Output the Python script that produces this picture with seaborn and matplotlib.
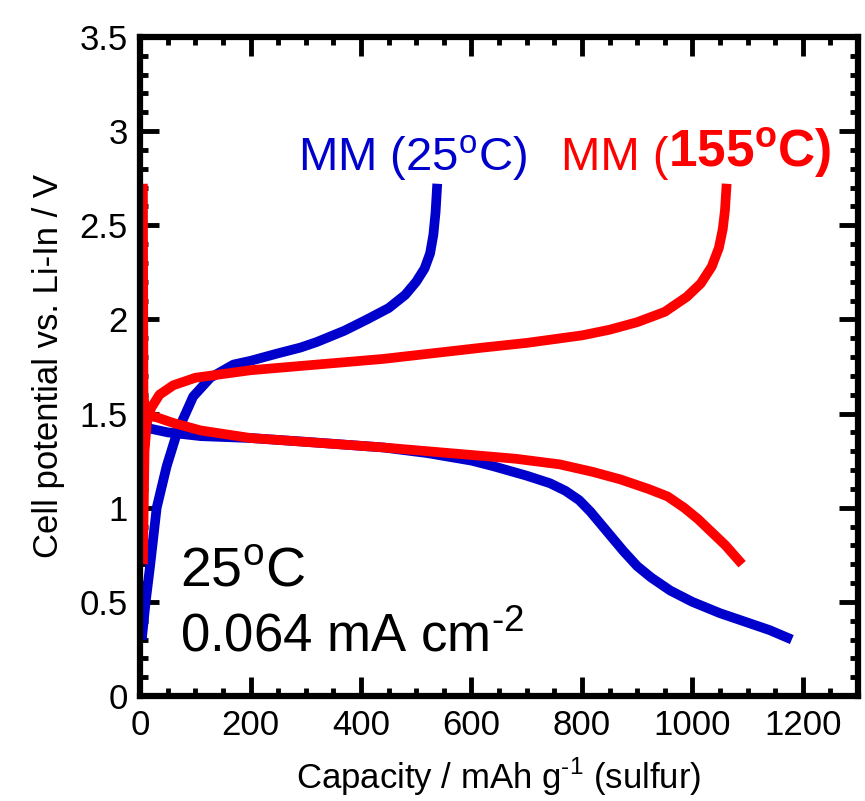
import matplotlib
matplotlib.use("Agg")
import matplotlib.pyplot as plt
import seaborn as sns
import pandas as pd
from matplotlib.ticker import MultipleLocator

# ---------------- data ----------------
blue_dis_cap = [0, 18, 50, 110, 200, 300, 440, 520, 600, 640, 700, 742, 770, 795, 815, 835, 855, 875, 900, 925, 960, 1000, 1050, 1100, 1140, 1180]
blue_dis_v   = [1.47, 1.42, 1.40, 1.38, 1.37, 1.35, 1.32, 1.29, 1.25, 1.22, 1.17, 1.13, 1.09, 1.04, 0.98, 0.91, 0.84, 0.77, 0.69, 0.63, 0.56, 0.50, 0.44, 0.39, 0.35, 0.30]

blue_chg_cap = [3, 10, 18, 30, 48, 67, 96, 127, 169, 200, 250, 290, 320, 370, 411, 450, 480, 500, 515, 525, 531, 535, 538]
blue_chg_v   = [0.30, 0.50, 0.69, 1.00, 1.22, 1.40, 1.59, 1.69, 1.76, 1.78, 1.82, 1.85, 1.88, 1.94, 2.00, 2.06, 2.13, 2.20, 2.27, 2.35, 2.45, 2.57, 2.72]

red_dis_cap = [5, 6, 10, 30, 60, 110, 200, 440, 680, 760, 820, 870, 920, 955, 985, 1010, 1035, 1060, 1090]
red_dis_v   = [2.72, 1.60, 1.49, 1.48, 1.45, 1.41, 1.37, 1.32, 1.26, 1.23, 1.19, 1.15, 1.10, 1.06, 1.00, 0.94, 0.87, 0.80, 0.70]

red_chg_cap = [5, 8, 12, 20, 35, 60, 100, 150, 200, 300, 440, 620, 700, 800, 850, 900, 950, 990, 1015, 1035, 1048, 1055, 1059, 1062]
red_chg_v   = [0.70, 1.30, 1.45, 1.53, 1.60, 1.65, 1.69, 1.71, 1.73, 1.755, 1.79, 1.85, 1.875, 1.915, 1.945, 1.985, 2.04, 2.12, 2.19, 2.28, 2.38, 2.48, 2.58, 2.72]

x_ticks = [0, 200, 400, 600, 800, 1000, 1200]
y_ticks = [0, 0.5, 1, 1.5, 2, 2.5, 3, 3.5]
y_tick_labels = ["0", "0.5", "1", "1.5", "2", "2.5", "3", "3.5"]

# ---------------- style ----------------
sns.set_style("ticks")
plt.rcParams["font.family"] = ["Liberation Sans", "DejaVu Sans"]
plt.rcParams["mathtext.fontset"] = "custom"
plt.rcParams["mathtext.rm"] = "Liberation Sans"
plt.rcParams["mathtext.bf"] = "Liberation Sans:bold"
for k in ["text.color", "axes.labelcolor", "xtick.color", "ytick.color", "axes.edgecolor"]:
    plt.rcParams[k] = "black"

BLUE = "#0000CC"
RED = "#FF0000"

fig = plt.figure(figsize=(8.65, 8.01), dpi=100)
ax = fig.add_axes([0.162, 0.131, 0.830, 0.823])

curves = [
    (blue_dis_cap, blue_dis_v, BLUE),
    (blue_chg_cap, blue_chg_v, BLUE),
    (red_dis_cap, red_dis_v, RED),
    (red_chg_cap, red_chg_v, RED),
]
for cap, v, col in curves:
    df = pd.DataFrame({"cap": cap, "v": v})
    sns.lineplot(data=df, x="cap", y="v", sort=False, estimator=None,
                 color=col, lw=7, ax=ax, solid_capstyle="butt",
                 solid_joinstyle="round", zorder=3)

ax.set_xlim(0, 1300)
ax.set_ylim(0, 3.5)
ax.set_xticks(x_ticks)
ax.set_yticks(y_ticks)
ax.set_yticklabels(y_tick_labels)
ax.xaxis.set_minor_locator(MultipleLocator(50))
ax.yaxis.set_minor_locator(MultipleLocator(0.1))
ax.tick_params(which="both", direction="in", top=True, right=True, width=3.5, color="black")
ax.tick_params(which="major", length=14, labelsize=25, pad=9)
ax.tick_params(which="minor", length=6)
for s in ax.spines.values():
    s.set_linewidth(4.5)
    s.set_visible(True)
    s.set_zorder(5)

ax.set_xlabel("Capacity / mAh g$^{\\mathregular{\u20101}}$ (sulfur)", fontsize=25, labelpad=10)
ax.set_ylabel("Cell potential vs. Li-In / V", fontsize=25, labelpad=10)

# annotations
ax.text(0.055, 0.168, r"25$^{\mathregular{o}}$C", transform=ax.transAxes, fontsize=40, va="baseline")
ax.text(0.055, 0.068, "0.064 mA cm$^{\\mathregular{\u20102}}$", transform=ax.transAxes, fontsize=38, va="baseline")

t1 = ax.text(0.22, 0.798, r"MM (25$^{\mathregular{o}}$C)", transform=ax.transAxes, fontsize=34,
             color=BLUE, va="baseline")
t2 = ax.text(0.586, 0.798, "MM (", transform=ax.transAxes, fontsize=34,
             color=RED, va="baseline")
ax.annotate(r"155$^{\mathbf{o}}$C)", xy=(1, 0), xycoords=t2, fontsize=37, color=RED,
            fontweight="bold", va="bottom", ha="left")

fig.savefig("out.png", dpi=100)
